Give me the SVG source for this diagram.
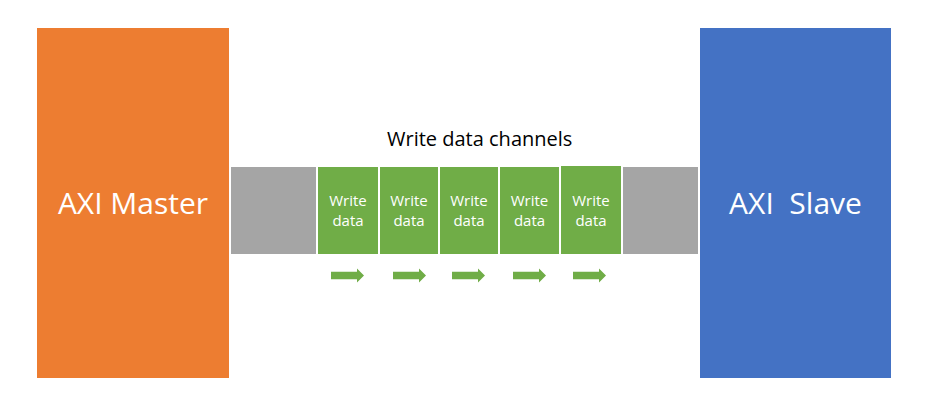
<svg xmlns="http://www.w3.org/2000/svg" xmlns:xlink="http://www.w3.org/1999/xlink" width="931" height="418" viewBox="0 0 931 418">
  <style>
    text { font-family: "Open Sans", "Noto Sans", "Liberation Sans", sans-serif; }
    .big { font-size: 30px; fill: #FFFFFF; text-anchor: middle; white-space: pre; }
    .cell { font-size: 15px; fill: #FFFFFF; text-anchor: middle; }
    .title { font-size: 20px; fill: #000000; }
    .green { fill: #70AD47; }
    .gray { fill: #A5A5A5; }
    .arrow { fill: #70AD47; }
  </style>
  <defs>
    <path id="arr" d="M0,-3.7 H26 V-7 L33,0 L26,7 V3.7 H0 Z"/>
  </defs>
  <rect width="931" height="418" fill="#FFFFFF"/>

  <g id="master">
    <rect x="37" y="28" width="192" height="350" fill="#ED7D31"/>
    <text class="big" x="133" y="214">AXI Master</text>
  </g>

  <g id="slave">
    <rect x="700" y="28" width="191" height="350" fill="#4472C4"/>
    <text class="big" x="795.5" y="214" xml:space="preserve">AXI  Slave</text>
  </g>

  <g id="channel-label">
    <text class="title" x="387" y="146">Write data channels</text>
  </g>

  <g id="channel-gray-left">
    <rect class="gray" x="231" y="167" width="85" height="87"/>
  </g>
  <g id="wd1">
    <rect class="green" x="318" y="167" width="60" height="87"/>
    <text class="cell" x="348" y="206">Write</text>
    <text class="cell" x="348" y="226">data</text>
  </g>
  <g id="wd2">
    <rect class="green" x="380" y="167" width="58" height="87"/>
    <text class="cell" x="409" y="206">Write</text>
    <text class="cell" x="409" y="226">data</text>
  </g>
  <g id="wd3">
    <rect class="green" x="440" y="167" width="58" height="87"/>
    <text class="cell" x="469" y="206">Write</text>
    <text class="cell" x="469" y="226">data</text>
  </g>
  <g id="wd4">
    <rect class="green" x="500" y="167" width="59" height="87"/>
    <text class="cell" x="529.5" y="206">Write</text>
    <text class="cell" x="529.5" y="226">data</text>
  </g>
  <g id="wd5">
    <rect class="green" x="561" y="166" width="60" height="88"/>
    <text class="cell" x="591" y="206">Write</text>
    <text class="cell" x="591" y="226">data</text>
  </g>
  <g id="channel-gray-right">
    <rect class="gray" x="623" y="167" width="75" height="87"/>
  </g>

  <g id="connectors">
    <use xlink:href="#arr" href="#arr" class="arrow" x="331" y="275.5"/>
    <use xlink:href="#arr" href="#arr" class="arrow" x="393" y="275.5"/>
    <use xlink:href="#arr" href="#arr" class="arrow" x="452" y="275.5"/>
    <use xlink:href="#arr" href="#arr" class="arrow" x="513" y="275.5"/>
    <use xlink:href="#arr" href="#arr" class="arrow" x="573" y="275.5"/>
  </g>
</svg>
